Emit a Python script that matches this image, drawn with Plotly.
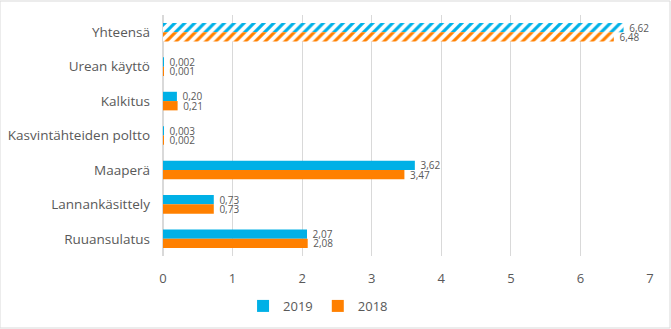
import plotly.graph_objects as go

categories = ["Yhteensä", "Urean käyttö", "Kalkitus", "Kasvintähteiden poltto",
              "Maaperä", "Lannankäsittely", "Ruuansulatus"]
values_2019 = [6.62, 0.002, 0.20, 0.003, 3.62, 0.73, 2.07]
values_2018 = [6.48, 0.001, 0.21, 0.002, 3.47, 0.73, 2.08]
x_ticks = [0, 1, 2, 3, 4, 5, 6, 7]
TOTAL = "Yhteensä"

BLUE = "#00B0E6"
ORANGE = "#FF8000"
GREY_TEXT = "#595959"
FONT = "Open Sans"


def fmt(v):
    s = f"{v:.3f}" if v < 0.01 else f"{v:.2f}"
    return s.replace(".", ",")


fig = go.Figure()
for name, vals, col in [("2019", values_2019, BLUE), ("2018", values_2018, ORANGE)]:
    parts = [
        # component rows: solid bars, these carry the legend entry
        ([c for c in categories if c != TOTAL],
         [v for c, v in zip(categories, vals) if c != TOTAL], "", True),
        # total row: hatched bar in the same slot
        ([TOTAL], [v for c, v in zip(categories, vals) if c == TOTAL], "/", False),
    ]
    for cats, xs, shape, legend in parts:
        fig.add_trace(go.Bar(
            name=name, y=cats, x=xs, orientation="h",
            offsetgroup=name, legendgroup=name, showlegend=legend,
            marker=dict(color=col, line=dict(width=0),
                        pattern=dict(shape=shape, size=7, solidity=0.45,
                                     fgcolor=col, bgcolor="white", fillmode="replace")),
            text=[fmt(v) for v in xs], texttemplate=" %{text}", textposition="outside",
            textfont=dict(family=FONT, size=10, color=GREY_TEXT),
            cliponaxis=False, constraintext="none",
        ))

fig.update_layout(
    width=671, height=329,
    margin=dict(l=163, r=21, t=15, b=73, autoexpand=False),
    paper_bgcolor="white", plot_bgcolor="white",
    barmode="group", bargap=0.46, bargroupgap=0,
    font=dict(family=FONT, color=GREY_TEXT),
    xaxis=dict(range=[0, 7], tickvals=x_ticks, showgrid=True, gridcolor="#D9D9D9",
               gridwidth=1, zeroline=True, zerolinecolor="#D9D9D9", showline=False,
               tickfont=dict(size=13, color=GREY_TEXT), ticks="", ticklabelstandoff=13,
               automargin=False),
    yaxis=dict(autorange="reversed", categoryorder="array", categoryarray=categories,
               showgrid=False, showline=False, ticks="", automargin=False,
               tickfont=dict(size=13.5, color=GREY_TEXT), ticklabelstandoff=12),
    legend=dict(orientation="h", xref="container", x=0.474, xanchor="center",
                yref="container", y=0.07, yanchor="middle", itemwidth=30,
                font=dict(size=13, color=GREY_TEXT), traceorder="normal"),
    shapes=[dict(type="rect", xref="paper", yref="paper", x0=-163/487, x1=1 + 20/487,
                 y0=-72/241, y1=1 + 14/241, line=dict(color="#D9D9D9", width=1),
                 fillcolor="rgba(0,0,0,0)", layer="below")],
)

fig.write_html("out.html")
